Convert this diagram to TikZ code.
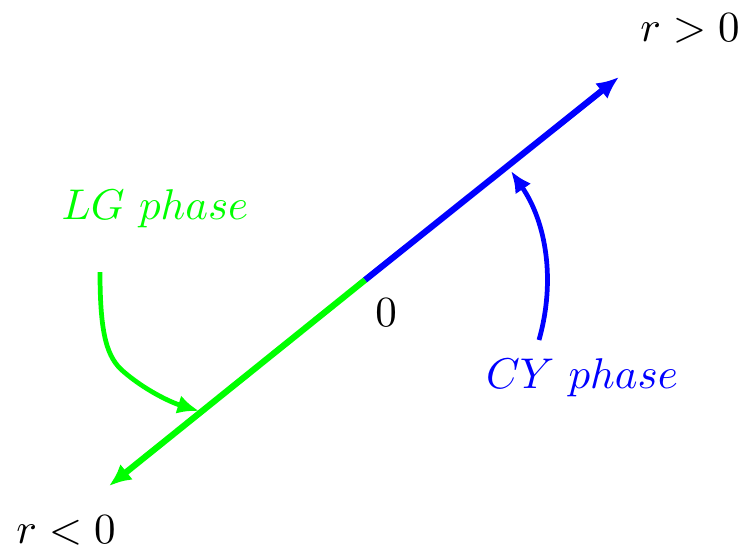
\documentclass[tikz,border=0pt]{standalone}
\usepackage{amsmath,amssymb}
\usepackage{tikz}
\usetikzlibrary{arrows.meta}

\begin{document}
\begin{tikzpicture}[
        x=0.2326pt, y=-0.2326pt,
        axis/.style={line width=1.45pt, -{Latex[length=5.2pt,width=4.6pt]}},
        bendarrow/.style={line width=1.1pt, -{Latex[length=5pt,width=4.4pt]}},
        lbl/.style={font=\normalsize, inner sep=0pt}
      ]
      \useasboundingbox (0,0) rectangle (747,551);

      % Origin and ends of the line
      \coordinate (origin) at (365,280);
      \coordinate (posend) at (619,77);
      \coordinate (negend) at (109,486);

      % Two halves
      \draw[axis, blue] (origin) -- (posend);
      \draw[axis, green] (origin) -- (negend);

      % Labels
      \node[lbl] (rpos) at (690,28) {$r>0$};
      \node[lbl] (rneg) at (66,530) {$r<0$};
      \node[lbl] (zero) at (386,313) {$0$};
      \node[lbl, text=green] (lg) at (155,209) {$LG\ phase$};
      \node[lbl, text=blue] (cy) at (582,378) {$CY\ phase$};

      % Curved arrows
      \coordinate (lgstart) at (100,272);
      \coordinate (lgend) at (199,411);
      \coordinate (cystart) at (539,340);
      \coordinate (cyend) at (511,171);

      \draw[bendarrow, green] (lgstart) .. controls (100,335) and (107,358) .. (124,372)
                                        .. controls (145,390) and (170,402) .. (lgend);
      \draw[bendarrow, blue] (cystart) .. controls (556,280) and (546,222) .. (cyend);
    \end{tikzpicture}
\end{document}
